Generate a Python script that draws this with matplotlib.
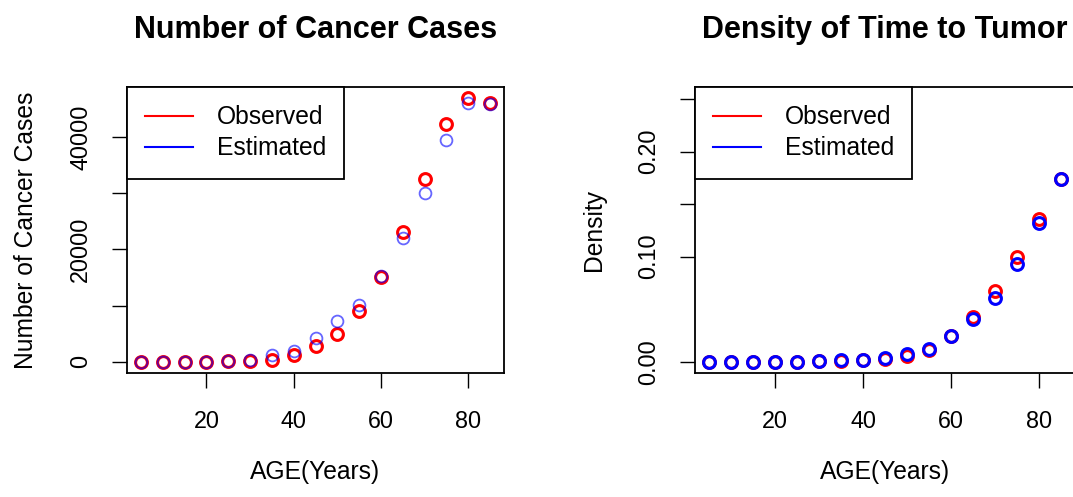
import matplotlib.pyplot as plt
import numpy as np
from matplotlib.lines import Line2D

plt.rcParams['font.family'] = ['Liberation Sans', 'DejaVu Sans']

# ages (years)
age = [5, 10, 15, 20, 25, 30, 35, 40, 45, 50, 55, 60, 65, 70, 75, 80, 85]

# number of cancer cases
cases_obs = [0, 0, 0, 0, 100, 50, 350, 1250, 2850, 4900, 9050, 15000,
             23100, 32500, 42300, 46900, 46000]
cases_est = [0, 0, 0, 0, 100, 250, 1250, 1950, 4300, 7200, 10100, 15300,
             22000, 30100, 39400, 46000, 45900]

# density of time to tumor
dens_obs = [0, 0, 0, 0, 0, 0.0003, 0.0010, 0.0012, 0.0025, 0.0057, 0.0114,
            0.0240, 0.0430, 0.0670, 0.0997, 0.1360, 0.1740]
dens_est = [0, 0, 0, 0, 0, 0.0010, 0.0012, 0.0018, 0.0035, 0.0076, 0.0124,
            0.0245, 0.0406, 0.0606, 0.0933, 0.1320, 0.1740]

W, H = 1073, 497
fig = plt.figure(figsize=(W / 100, H / 100), dpi=100)


def box(l, r, t, b):
    return [l / W, (H - b) / H, (r - l) / W, (b - t) / H]


ax1 = fig.add_axes(box(127, 504, 87, 373))
ax2 = fig.add_axes(box(695, 1075, 87, 373))


def draw(ax, obs, est, blue_style, title, ylabel, ylim, yticks, ylabels, ylab_x):
    ax.plot(age, obs, 'o', mfc='none', mec='red', ms=8.5, mew=2.2, zorder=3)
    ax.plot(age, est, 'o', mfc='none', ms=8.5, zorder=4, **blue_style)
    ax.set_xlim(1.8, 88.2)
    ax.set_ylim(*ylim)
    ax.set_xticks([20, 40, 60, 80])
    ax.set_yticks(yticks)
    ax.set_yticklabels(ylabels, rotation=90, va='center')
    ax.tick_params(axis='both', length=11, width=1, labelsize=16.8, color='black')
    ax.tick_params(axis='x', pad=16)
    ax.tick_params(axis='y', pad=14)
    for s in ax.spines.values():
        s.set_linewidth(1.3)
    ax.set_title(title, fontsize=22, fontweight='bold', pad=35)
    ax.set_xlabel('AGE(Years)', fontsize=17.7)
    ax.xaxis.set_label_coords(0.5, -0.305)
    ax.set_ylabel(ylabel, fontsize=17.7)
    ax.yaxis.set_label_coords(ylab_x, 0.5)
    handles = [Line2D([], [], color='red', lw=1.5), Line2D([], [], color='blue', lw=1.5)]
    leg = ax.legend(handles, ['Observed', 'Estimated'], loc='upper left',
                    bbox_to_anchor=(0, 1), borderaxespad=0, fancybox=False,
                    framealpha=1, edgecolor='black', fontsize=17.7,
                    handlelength=1.95, handletextpad=0.95, labelspacing=0.28,
                    borderpad=0.75)
    leg.get_frame().set_linewidth(1.3)


draw(ax1, cases_obs, cases_est,
     dict(mec='blue', mew=1.3, alpha=0.6),
     'Number of Cancer Cases', 'Number of Cancer Cases',
     (-2010, 48880), [0, 10000, 20000, 30000, 40000],
     ['0', '', '20000', '', '40000'], -0.235)

draw(ax2, dens_obs, dens_est,
     dict(mec='blue', mew=2.2),
     'Density of Time to Tumor', 'Density',
     (-0.0108, 0.2616), [0, 0.10, 0.15, 0.20, 0.25],
     ['0.00', '0.10', '', '0.20', ''], -0.235)

fig.savefig('out.png', dpi=100)
